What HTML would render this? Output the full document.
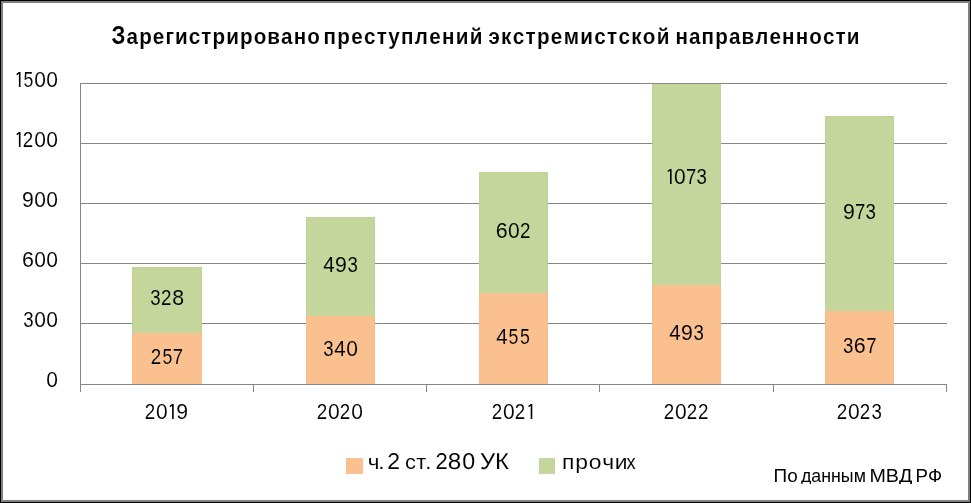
<!DOCTYPE html>
<html lang="ru"><head><meta charset="utf-8"><title>Зарегистрировано преступлений экстремистской направленности</title>
<style>
html,body{margin:0;padding:0;background:#fff}
body{width:971px;height:503px;overflow:hidden}
svg{display:block;will-change:transform}
text{font-family:"Liberation Sans",sans-serif;fill:#000;white-space:pre;font-kerning:none}
.b{font-weight:bold}
.one rect,.one path{fill:#000}
</style></head><body>
<svg width="971" height="503" viewBox="0 0 971 503">
<g shape-rendering="crispEdges">
<rect x="0" y="0" width="971" height="503" fill="#000"/>
<rect x="1" y="1" width="969" height="501" fill="#808080"/>
<rect x="3" y="3" width="965" height="497" fill="#fff"/>
<!-- gridlines -->
<rect x="80" y="83" width="867" height="1" fill="#868686"/>
<rect x="80" y="143" width="867" height="1" fill="#868686"/>
<rect x="80" y="203" width="867" height="1" fill="#868686"/>
<rect x="80" y="263" width="867" height="1" fill="#868686"/>
<rect x="80" y="323" width="867" height="1" fill="#868686"/>
<!-- bars -->
<rect x="132" y="267" width="70" height="66" fill="#BFD393"/>
<rect x="133" y="268" width="68" height="65" fill="#C4D69B"/>
<rect x="132" y="333" width="70" height="51" fill="#F9BC89"/>
<rect x="133" y="333" width="68" height="51" fill="#FAC090"/>
<rect x="306" y="217" width="69" height="99" fill="#BFD393"/>
<rect x="307" y="218" width="67" height="98" fill="#C4D69B"/>
<rect x="306" y="316" width="69" height="68" fill="#F9BC89"/>
<rect x="307" y="316" width="67" height="68" fill="#FAC090"/>
<rect x="479" y="172" width="69" height="121" fill="#BFD393"/>
<rect x="480" y="173" width="67" height="120" fill="#C4D69B"/>
<rect x="479" y="293" width="69" height="91" fill="#F9BC89"/>
<rect x="480" y="293" width="67" height="91" fill="#FAC090"/>
<rect x="652" y="84" width="69" height="201" fill="#BFD393"/>
<rect x="653" y="84" width="67" height="201" fill="#C4D69B"/>
<rect x="652" y="285" width="69" height="99" fill="#F9BC89"/>
<rect x="653" y="285" width="67" height="99" fill="#FAC090"/>
<rect x="825" y="116" width="69" height="195" fill="#BFD393"/>
<rect x="826" y="117" width="67" height="194" fill="#C4D69B"/>
<rect x="825" y="311" width="69" height="73" fill="#F9BC89"/>
<rect x="826" y="311" width="67" height="73" fill="#FAC090"/>
<!-- axes -->
<rect x="80" y="83" width="1" height="309" fill="#868686"/>
<rect x="80" y="384" width="867" height="1" fill="#868686"/>
<rect x="253" y="384" width="1" height="8" fill="#868686"/>
<rect x="426" y="384" width="1" height="8" fill="#868686"/>
<rect x="599" y="384" width="1" height="8" fill="#868686"/>
<rect x="773" y="384" width="1" height="8" fill="#868686"/>
<rect x="946" y="384" width="1" height="8" fill="#868686"/>
<!-- legend swatches -->
<rect x="346" y="458" width="17" height="16" fill="#FAC090"/>
<rect x="539" y="458" width="16" height="16" fill="#C4D69B"/>
</g>
<!-- title -->
<text transform="translate(111.4 43.55) scale(0.8511 1)" font-size="26" class="b" stroke="#fff" stroke-width="0.1">З</text>
<text transform="translate(126.59 43.55) scale(0.9500 1)" font-size="21.75" class="b" stroke="#fff" stroke-width="0.1" letter-spacing="1.122">арегистрировано</text>
<text transform="translate(323.51 43.55) scale(0.9500 1)" font-size="21.75" class="b" stroke="#fff" stroke-width="0.1" letter-spacing="1.373">преступлений</text>
<text transform="translate(488.38 43.55) scale(0.9500 1)" font-size="21.75" class="b" stroke="#fff" stroke-width="0.1" letter-spacing="1.371">экстремистской</text>
<text transform="translate(675.41 43.55) scale(0.9500 1)" font-size="21.75" class="b" stroke="#fff" stroke-width="0.1" letter-spacing="1.162">направленности</text>
<!-- y axis labels -->
<g font-size="21.3" stroke="#fff" stroke-width="0.08">
<path d="M20.5 87V72.09H18.9L16.3 74.09L17.08 75.13L18.9 73.74V87Z" stroke="none"/>
<text transform="translate(23.59 87) scale(0.832 1)">5</text>
<text transform="translate(34.2 87) scale(0.987 1)">0</text>
<text transform="translate(46.3 87) scale(0.987 1)">0</text>
</g>
<g font-size="21.3" stroke="#fff" stroke-width="0.08">
<path d="M20.5 147V132.09H18.9L16.3 134.09L17.08 135.13L18.9 133.74V147Z" stroke="none"/>
<text transform="translate(22.73 147) scale(0.881 1)">2</text>
<text transform="translate(34.2 147) scale(0.987 1)">0</text>
<text transform="translate(46.3 147) scale(0.987 1)">0</text>
</g>
<g font-size="21.3" stroke="#fff" stroke-width="0.08">
<text transform="translate(22.06 207) scale(0.996 1)">9</text>
<text transform="translate(34.2 207) scale(0.987 1)">0</text>
<text transform="translate(46.3 207) scale(0.987 1)">0</text>
</g>
<g font-size="21.3" stroke="#fff" stroke-width="0.08">
<text transform="translate(21.91 267) scale(1.007 1)">6</text>
<text transform="translate(34.2 267) scale(0.987 1)">0</text>
<text transform="translate(46.3 267) scale(0.987 1)">0</text>
</g>
<g font-size="21.3" stroke="#fff" stroke-width="0.08">
<text transform="translate(23.16 327) scale(0.876 1)">3</text>
<text transform="translate(34.2 327) scale(0.987 1)">0</text>
<text transform="translate(46.3 327) scale(0.987 1)">0</text>
</g>
<g font-size="21.3" stroke="#fff" stroke-width="0.08">
<text transform="translate(46.25 387) scale(0.987 1)">0</text>
</g>
<!-- x axis labels -->
<g font-size="21.3" stroke="#fff" stroke-width="0.08">
<text transform="translate(144.78 419) scale(0.881 1)">2</text>
<text transform="translate(156.1 419) scale(0.987 1)">0</text>
<path d="M173.7 419V404.09H172.1L169.5 406.09L170.28 407.13L172.1 405.74V419Z" stroke="none"/>
<text transform="translate(176.26 419) scale(0.996 1)">9</text>
</g>
<g font-size="21.3" stroke="#fff" stroke-width="0.08">
<text transform="translate(316.78 419) scale(0.881 1)">2</text>
<text transform="translate(328.1 419) scale(0.987 1)">0</text>
<text transform="translate(339.73 419) scale(0.881 1)">2</text>
<text transform="translate(351.15 419) scale(0.987 1)">0</text>
</g>
<g font-size="21.3" stroke="#fff" stroke-width="0.08">
<text transform="translate(491.83 419) scale(0.881 1)">2</text>
<text transform="translate(503.1 419) scale(0.987 1)">0</text>
<text transform="translate(514.83 419) scale(0.881 1)">2</text>
<path d="M532.3 419V404.09H530.7L528.1 406.09L528.88 407.13L530.7 405.74V419Z" stroke="none"/>
</g>
<g font-size="21.3" stroke="#fff" stroke-width="0.08">
<text transform="translate(663.73 419) scale(0.881 1)">2</text>
<text transform="translate(675.1 419) scale(0.987 1)">0</text>
<text transform="translate(686.68 419) scale(0.881 1)">2</text>
<text transform="translate(697.93 419) scale(0.881 1)">2</text>
</g>
<g font-size="21.3" stroke="#fff" stroke-width="0.08">
<text transform="translate(836.73 419) scale(0.881 1)">2</text>
<text transform="translate(848.1 419) scale(0.987 1)">0</text>
<text transform="translate(859.68 419) scale(0.881 1)">2</text>
<text transform="translate(871.41 419) scale(0.876 1)">3</text>
</g>
<!-- data labels -->
<g font-size="21.3" stroke="#C4D69B" stroke-width="0.08">
<text transform="translate(150.16 304.9) scale(0.876 1)">3</text>
<text transform="translate(160.93 304.9) scale(0.881 1)">2</text>
<text transform="translate(172.27 304.9) scale(1.001 1)">8</text>
</g>
<g font-size="21.3" stroke="#FAC090" stroke-width="0.08">
<text transform="translate(150.73 364) scale(0.881 1)">2</text>
<text transform="translate(162.39 364) scale(0.832 1)">5</text>
<text transform="translate(172.65 364) scale(0.868 1)">7</text>
</g>
<g font-size="21.3" stroke="#C4D69B" stroke-width="0.08">
<text transform="translate(323.13 271.9) scale(0.960 1)">4</text>
<text transform="translate(335.11 271.9) scale(0.996 1)">9</text>
<text transform="translate(347.46 271.9) scale(0.876 1)">3</text>
</g>
<g font-size="21.3" stroke="#FAC090" stroke-width="0.08">
<text transform="translate(323.16 355.9) scale(0.876 1)">3</text>
<text transform="translate(334.18 355.9) scale(0.960 1)">4</text>
<text transform="translate(346.35 355.9) scale(0.987 1)">0</text>
</g>
<g font-size="21.3" stroke="#C4D69B" stroke-width="0.08">
<text transform="translate(495.66 237.9) scale(1.007 1)">6</text>
<text transform="translate(508.05 237.9) scale(0.987 1)">0</text>
<text transform="translate(519.98 237.9) scale(0.881 1)">2</text>
</g>
<g font-size="21.3" stroke="#FAC090" stroke-width="0.08">
<text transform="translate(496.13 343.9) scale(0.960 1)">4</text>
<text transform="translate(508.59 343.9) scale(0.832 1)">5</text>
<text transform="translate(519.89 343.9) scale(0.832 1)">5</text>
</g>
<g font-size="21.3" stroke="#C4D69B" stroke-width="0.08">
<path d="M671.6 183.9V168.99H670L667.4 170.99L668.18 172.03L670 170.64V183.9Z" stroke="none"/>
<text transform="translate(674.05 183.9) scale(0.987 1)">0</text>
<text transform="translate(685.9 183.9) scale(0.868 1)">7</text>
<text transform="translate(696.56 183.9) scale(0.876 1)">3</text>
</g>
<g font-size="21.3" stroke="#FAC090" stroke-width="0.08">
<text transform="translate(669.13 339.9) scale(0.960 1)">4</text>
<text transform="translate(681.11 339.9) scale(0.996 1)">9</text>
<text transform="translate(693.46 339.9) scale(0.876 1)">3</text>
</g>
<g font-size="21.3" stroke="#C4D69B" stroke-width="0.08">
<text transform="translate(843.03 218.9) scale(0.996 1)">9</text>
<text transform="translate(854.95 218.9) scale(0.868 1)">7</text>
<text transform="translate(865.41 218.9) scale(0.876 1)">3</text>
</g>
<g font-size="21.3" stroke="#FAC090" stroke-width="0.08">
<text transform="translate(843.06 352.9) scale(0.876 1)">3</text>
<text transform="translate(853.86 352.9) scale(1.007 1)">6</text>
<text transform="translate(866.15 352.9) scale(0.868 1)">7</text>
</g>
<!-- legend -->
<g font-size="20.8" stroke="#fff" stroke-width="0.08">
<text transform="translate(367.81 468.9) scale(1.080 1)">ч</text>
<text transform="translate(378.18 468.9) scale(1.080 1)">.</text>
</g>
<g font-size="22.9" stroke="#fff" stroke-width="0.08" text-rendering="geometricPrecision">
<text transform="translate(387.34 468.9) scale(1.006 1)">2</text>
</g>
<g font-size="20.8" stroke="#fff" stroke-width="0.08">
<text transform="translate(404.91 468.9) scale(1.050 1)">с</text>
<text transform="translate(416.3 468.9) scale(1.050 1)">т</text>
<text transform="translate(425.22 468.9) scale(1.050 1)">.</text>
</g>
<g font-size="22.9" stroke="#fff" stroke-width="0.08" text-rendering="geometricPrecision">
<text transform="translate(435.6 468.9) scale(0.959 1)">2</text>
<text transform="translate(447.84 468.9) scale(1.061 1)">8</text>
<text transform="translate(462.19 468.9) scale(1.014 1)">0</text>
</g>
<text transform="translate(479.96 468.9) scale(1.0428 1)" font-size="22.9" stroke="#fff" stroke-width="0.08" text-rendering="geometricPrecision">УК</text>
<g font-size="20.8" stroke="#fff" stroke-width="0.08">
<text transform="translate(561.91 468.6) scale(1.100 1)">п</text>
<text transform="translate(575.13 468.6) scale(1.100 1)">р</text>
<text transform="translate(588.74 468.6) scale(1.100 1)">о</text>
<text transform="translate(602.31 468.6) scale(1.100 1)">ч</text>
<text transform="translate(614.76 468.6) scale(1.100 1)">и</text>
<text transform="translate(626.42 468.6) scale(0.880 1)">х</text>
</g>
<!-- source -->
<clipPath id="sc"><rect x="760" y="460" width="200" height="24"/></clipPath>
<g clip-path="url(#sc)">
<text transform="translate(773.57 481.8) scale(1.0342 1)" font-size="18.3">По</text>
<text transform="translate(800.93 481.8) scale(0.9730 1)" font-size="18.3">данным</text>
<text transform="translate(869.38 481.8) scale(1.0762 1)" font-size="18.3">МВД</text>
<text transform="translate(915.47 481.8) scale(1.0185 1)" font-size="18.3">РФ</text>
</g>
</svg>
</body></html>
